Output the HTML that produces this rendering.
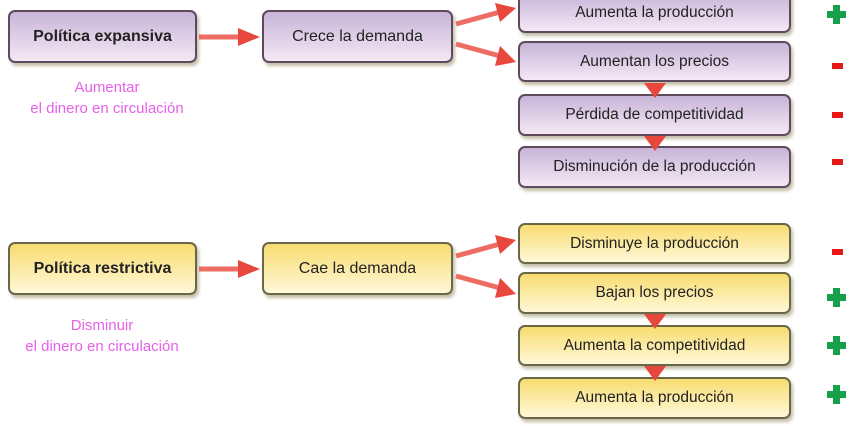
<!DOCTYPE html>
<html><head><meta charset="utf-8"><style>
body{margin:0;width:852px;height:426px;background:#fff;position:relative;overflow:hidden;font-family:"Liberation Sans",sans-serif}
.b{position:absolute;box-sizing:border-box;border:2px solid #5a4556;border-radius:7px;display:flex;align-items:center;justify-content:center;font-size:15.5px;color:#222;box-shadow:2px 3px 3px rgba(120,110,60,.45)}
.p{background:linear-gradient(#c8b4d8,#f4e8f4);border-color:#5e4a5c}
.y{background:linear-gradient(#f8dc70,#fff8d8);border-color:#6a6648}
.bold{font-weight:bold;font-size:16px}
.t{position:absolute;color:#e860e8;font-size:15px;text-align:center;width:210px;line-height:21px}
.pl{position:absolute;width:19px;height:19px}
.pl:before{content:"";position:absolute;left:6px;top:0;width:7px;height:19px;background:#16a04a}
.pl:after{content:"";position:absolute;left:0;top:6px;width:19px;height:7px;background:#16a04a}
.mi{position:absolute;width:11px;height:6px;background:#e81818}
svg{position:absolute;left:0;top:0}
</style></head><body>
<div class="b p bold" style="left:8px;top:10px;width:189px;height:53px">Política expansiva</div>
<div class="b p" style="left:262px;top:10px;width:191px;height:53px;font-size:16px">Crece la demanda</div>
<div class="b p" style="left:518px;top:-8px;width:273px;height:41px">Aumenta la producción</div>
<div class="b p" style="left:518px;top:41px;width:273px;height:41px">Aumentan los precios</div>
<div class="b p" style="left:518px;top:94px;width:273px;height:42px">Pérdida de competitividad</div>
<div class="b p" style="left:518px;top:146px;width:273px;height:42px">Disminución de la producción</div>
<div class="t" style="left:2px;top:77px">Aumentar<br>el dinero en circulación</div>

<div class="b y bold" style="left:8px;top:242px;width:189px;height:53px">Política restrictiva</div>
<div class="b y" style="left:262px;top:242px;width:191px;height:53px;font-size:16px">Cae la demanda</div>
<div class="b y" style="left:518px;top:223px;width:273px;height:41px">Disminuye la producción</div>
<div class="b y" style="left:518px;top:272px;width:273px;height:42px">Bajan los precios</div>
<div class="b y" style="left:518px;top:325px;width:273px;height:41px">Aumenta la competitividad</div>
<div class="b y" style="left:518px;top:377px;width:273px;height:42px">Aumenta la producción</div>
<div class="t" style="left:-3px;top:315px">Disminuir<br>el dinero en circulación</div>

<div class="pl" style="left:827px;top:5px"></div>
<div class="mi" style="left:832px;top:63px"></div>
<div class="mi" style="left:832px;top:112px"></div>
<div class="mi" style="left:832px;top:159px"></div>
<div class="mi" style="left:832px;top:249px"></div>
<div class="pl" style="left:827px;top:288px"></div>
<div class="pl" style="left:827px;top:336px"></div>
<div class="pl" style="left:827px;top:385px"></div>

<svg width="852" height="426">
<g fill="#e8483c" stroke="#e8483c">
<line x1="199" y1="37" x2="242" y2="37" stroke-width="5" stroke-opacity=".8"/>
<polygon points="238,28 260,37 238,46" stroke="none"/>
<line x1="199" y1="269" x2="242" y2="269" stroke-width="5" stroke-opacity=".8"/>
<polygon points="238,260 260,269 238,278" stroke="none"/>
<line x1="456" y1="24" x2="500" y2="12" stroke-width="5" stroke-opacity=".8"/>
<polygon points="495,3 516,8 500,22" stroke="none"/>
<line x1="456" y1="44" x2="500" y2="56" stroke-width="5" stroke-opacity=".8"/>
<polygon points="500,46 516,62 495,66" stroke="none"/>
<line x1="456" y1="256" x2="500" y2="244" stroke-width="5" stroke-opacity=".8"/>
<polygon points="495,235 516,240 500,254" stroke="none"/>
<line x1="456" y1="276" x2="500" y2="288" stroke-width="5" stroke-opacity=".8"/>
<polygon points="500,278 516,294 495,298" stroke="none"/>
<polygon points="644,83 666,83 655,98" stroke="none"/>
<polygon points="644,136 666,136 655,151" stroke="none"/>
<polygon points="644,314 666,314 655,329" stroke="none"/>
<polygon points="644,366 666,366 655,381" stroke="none"/>
</g></svg>
</body></html>
